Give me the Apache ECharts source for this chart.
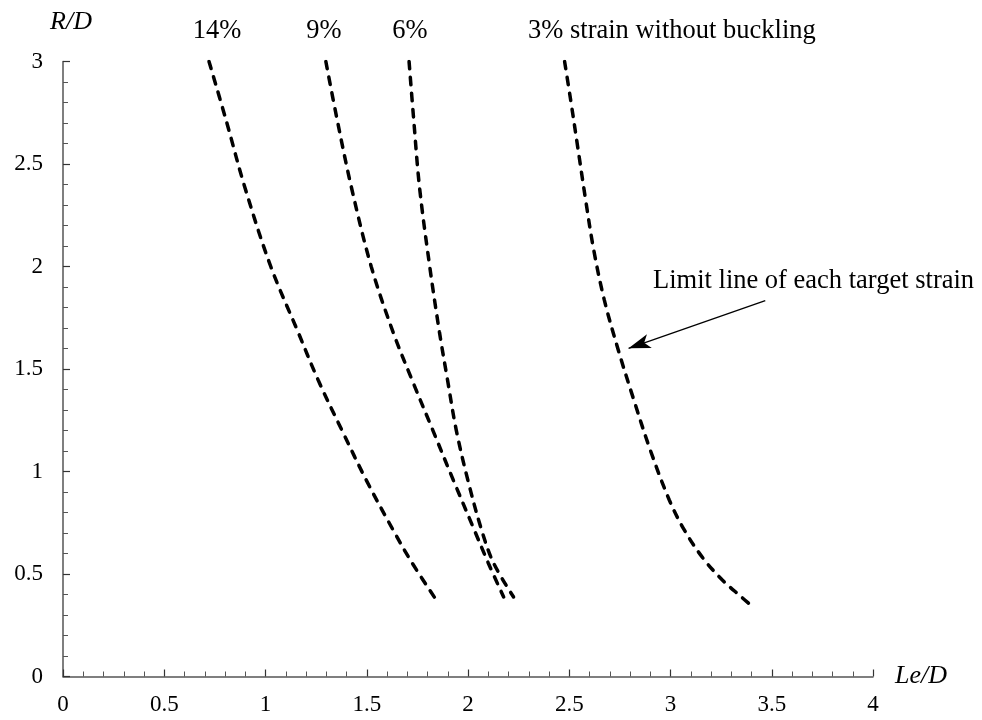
<!DOCTYPE html>
<html>
<head>
<meta charset="utf-8">
<script src="https://cdn.jsdelivr.net/npm/echarts@6/dist/echarts.min.js"></script>
<style>html,body{margin:0;padding:0;background:#fff}#c{width:982px;height:720px}</style>
</head>
<body>
<div id="c"></div>
<script>
// Axis ticks
var xTicks = [0, 0.5, 1, 1.5, 2, 2.5, 3, 3.5, 4];
var yTicks = [0, 0.5, 1, 1.5, 2, 2.5, 3];

// Curve labels
var curveNames = ['14%', '9%', '6%', '3% strain without buckling'];

// 14% curve (Le/D, R/D)
var x14 = [0.721, 0.805, 0.899, 1.026, 1.161, 1.260, 1.377, 1.497, 1.630, 1.724, 1.853];
var y14 = [3.000, 2.715, 2.383, 2.000, 1.680, 1.446, 1.202, 0.959, 0.715, 0.554, 0.359];

// 9% curve
var x9 = [1.298, 1.354, 1.425, 1.522, 1.630, 1.724, 1.826, 1.927, 2.031, 2.100, 2.176];
var y9 = [3.000, 2.715, 2.383, 2.000, 1.680, 1.446, 1.202, 0.959, 0.715, 0.554, 0.388];

// 6% curve
var x6 = [1.709, 1.732, 1.761, 1.811, 1.859, 1.899, 1.942, 1.999, 2.067, 2.126, 2.225];
var y6 = [3.000, 2.715, 2.383, 2.000, 1.680, 1.446, 1.202, 0.959, 0.715, 0.554, 0.388];

// 3% curve
var x3 = [2.477, 2.507, 2.544, 2.581, 2.621, 2.673, 2.742, 2.819, 2.900, 2.994, 3.068, 3.160, 3.256, 3.350, 3.386];
var y3 = [3.000, 2.812, 2.568, 2.324, 2.080, 1.837, 1.593, 1.349, 1.105, 0.861, 0.715, 0.578, 0.471, 0.388, 0.357];

// Annotation arrow (tail -> head), data coords
var arrowTail = [3.468, 1.833];
var arrowHead = [2.793, 1.601];
var annotationText = 'Limit line of each target strain';

function pairs(xs, ys) { return xs.map(function (x, i) { return [x, ys[i]]; }); }

var FONT = 'Liberation Serif';
var chart = echarts.init(document.getElementById('c'), null, {renderer: 'canvas'});

var dashStyle = {color: '#000', width: 3.5, type: [7.5, 8.5], cap: 'round'};
function curve(name, xs, ys) {
  return {
    name: name, type: 'line', data: pairs(xs, ys), showSymbol: false, symbol: 'none',
    smooth: 0.35, lineStyle: dashStyle, silent: true, z: 3
  };
}

var axisCommon = {
  type: 'value', interval: 0.5,
  axisLine: {show: true, onZero: false, lineStyle: {color: '#555', width: 1.5}},
  axisTick: {show: true, inside: true, length: 7, lineStyle: {color: '#333', width: 1.2}},
  minorTick: {show: true, splitNumber: 5, length: 5, lineStyle: {color: '#555', width: 1}},
  splitLine: {show: false},
  axisLabel: {color: '#000', fontFamily: FONT, fontSize: 23},
  nameTextStyle: {color: '#000', fontFamily: FONT, fontSize: 26, fontStyle: 'italic'}
};

var series = [
  curve(curveNames[0], x14, y14),
  curve(curveNames[1], x9, y9),
  curve(curveNames[2], x6, y6),
  curve(curveNames[3], x3, y3)
];
series[3].markLine = {
  silent: true, animation: false,
  symbol: ['none', 'arrow'], symbolSize: [11, 22],
  label: {show: false},
  lineStyle: {color: '#000', width: 1.3, type: 'solid'},
  data: [[{coord: arrowTail}, {coord: arrowHead}]]
};

var labelFont = '26.5px ' + FONT;
var option = {
  animation: false,
  backgroundColor: '#fff',
  grid: {left: 63, right: 109, top: 61.5, bottom: 43.5, containLabel: false},
  xAxis: Object.assign({}, axisCommon, {
    min: xTicks[0], max: xTicks[xTicks.length - 1],
    name: 'Le/D', nameLocation: 'end', nameGap: 22,
    nameTextStyle: Object.assign({}, axisCommon.nameTextStyle, {align: 'left', verticalAlign: 'middle'}),
    axisLabel: Object.assign({}, axisCommon.axisLabel, {margin: 17, formatter: function (v) { return String(v); }})
  }),
  yAxis: Object.assign({}, axisCommon, {
    min: yTicks[0], max: yTicks[yTicks.length - 1],
    name: 'R/D', nameLocation: 'end', nameGap: 26,
    nameTextStyle: Object.assign({}, axisCommon.nameTextStyle, {align: 'center', padding: [0, 0, 0, 16]}),
    axisLabel: Object.assign({}, axisCommon.axisLabel, {margin: 20, formatter: function (v) { return String(v); }})
  }),
  graphic: [
    {type: 'text', x: 217, y: 31, style: {text: curveNames[0], font: labelFont, fill: '#000', align: 'center', verticalAlign: 'middle'}},
    {type: 'text', x: 324, y: 31, style: {text: curveNames[1], font: labelFont, fill: '#000', align: 'center', verticalAlign: 'middle'}},
    {type: 'text', x: 410, y: 31, style: {text: curveNames[2], font: labelFont, fill: '#000', align: 'center', verticalAlign: 'middle'}},
    {type: 'text', x: 528, y: 31, style: {text: curveNames[3], font: labelFont, fill: '#000', align: 'left', verticalAlign: 'middle'}},
    {type: 'text', x: 653, y: 281, style: {text: annotationText, font: labelFont, fill: '#000', align: 'left', verticalAlign: 'middle'}}
  ],
  series: series
};
chart.setOption(option);
</script>
</body>
</html>
